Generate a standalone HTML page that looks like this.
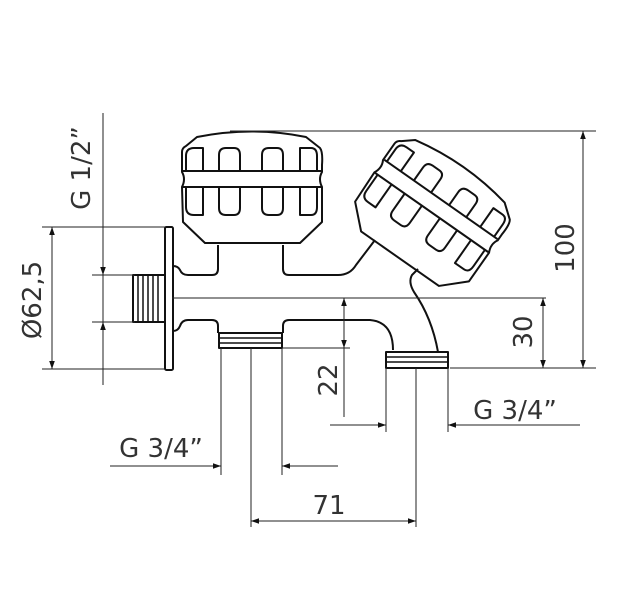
<!DOCTYPE html>
<html><head><meta charset="utf-8"><style>
html,body{margin:0;padding:0;background:#fff;}
svg{display:block;}
text{font-family:"DejaVu Sans","Liberation Sans",sans-serif;fill:#333;}
</style></head><body>
<svg width="634" height="600" viewBox="0 0 634 600" xmlns="http://www.w3.org/2000/svg">
<defs>
<marker id="a" viewBox="0 0 10 10" refX="10" refY="5" markerWidth="10" markerHeight="8" orient="auto-start-reverse" markerUnits="userSpaceOnUse"><path d="M0,1.5 L10,5 L0,8.5 z" fill="#111"/></marker>
<g id="knob" fill="none" stroke="#111" stroke-width="2" stroke-linejoin="round">
<path d="M197,137 Q252,126 306,137 L320,148 Q323,152 322,165 L322,172 Q318,179 322,187 L322,222 L300,243 L205,243 L183,222 L182,187 Q186,179 182,172 L182,152 Q182,148 186,146 Z"/>
<path d="M183,171 L321,171 M183,187 L321,187"/>
<path d="M186,171 L186,156 Q186,148 194,148 L203,148 L203,171"/>
<path d="M219,171 L219,155 Q219,148 226,148 L234,148 Q240,148 240,155 L240,171"/>
<path d="M262,171 L262,155 Q262,148 269,148 L277,148 Q283,148 283,155 L283,171"/>
<path d="M300,171 L300,148 L311,148 Q317,148 317,156 L317,171"/>
<path d="M186,187 L186,207 Q186,215 194,215 L203,215 L203,187"/>
<path d="M219,187 L219,208 Q219,215 226,215 L234,215 Q240,215 240,208 L240,187"/>
<path d="M262,187 L262,208 Q262,215 269,215 L277,215 Q283,215 283,208 L283,187"/>
<path d="M300,187 L300,215 L311,215 Q317,215 317,207 L317,187"/>
</g>
</defs>

<use href="#knob"/>
<g transform="translate(430,215) rotate(35) translate(-252,-190)"><use href="#knob"/></g>

<g fill="none" stroke="#111" stroke-width="2" stroke-linejoin="round">
<rect x="165" y="227" width="8" height="143" rx="1.5"/>
<rect x="133" y="275" width="32" height="47"/>
<path d="M138,275V322 M143,275V322 M148,275V322 M153,275V322 M158,275V322" stroke-width="1.5"/>
<path d="M173,266 Q178,266 180,270 Q182,275 188,275 L212,275 Q218,275 218,269 L218,245"/>
<path d="M283,245 L283,269 Q283,275 289,275 L338,275 Q350,275 356,265 L375,240"/>
<path d="M173,331 Q178,331 180,326 Q182,320 188,320 L212,320 Q218,320 218,326 L218,333"/>
<path d="M283,333 L283,326 Q283,320 289,320 L370,320 Q393,322 393,350"/>
<path d="M418,269 L412,275 Q408,282 414,292 Q432,318 438,352"/>
<rect x="219" y="333" width="63" height="15"/>
<path d="M219,338H282 M219,343H282" stroke-width="1.5"/>
<rect x="386" y="352" width="62" height="16"/>
<path d="M386,357H448 M386,362H448" stroke-width="1.5"/>
</g>

<g fill="none" stroke="#222" stroke-width="1">
<path d="M230,131H596"/>
<path d="M172,298H546"/>
<path d="M450,368H596"/>
<path d="M103,113V385"/>
<path d="M42,227H165 M42,369H165"/>
<path d="M92,275H135 M92,322H135"/>
<path d="M282,348H350"/>
<path d="M221,348V475 M282,348V475 M251,348V527"/>
<path d="M386,368V432 M448,368V432 M416,368V527"/>
<path d="M330,425H386 M448,425H580"/>
<path d="M110,466H221 M282,466H338"/>
</g>
<g stroke="#222" stroke-width="1" fill="none">
<line x1="103" y1="250" x2="103" y2="275" marker-end="url(#a)"/>
<line x1="103" y1="347" x2="103" y2="322" marker-end="url(#a)"/>
<line x1="52" y1="227" x2="52" y2="369" marker-start="url(#a)" marker-end="url(#a)"/>
<line x1="583" y1="131" x2="583" y2="368" marker-start="url(#a)" marker-end="url(#a)"/>
<line x1="543" y1="298" x2="543" y2="368" marker-start="url(#a)" marker-end="url(#a)"/>
<line x1="344" y1="298" x2="344" y2="348" marker-start="url(#a)" marker-end="url(#a)"/>
<line x1="344" y1="348" x2="344" y2="417"/>
<line x1="360" y1="425" x2="386" y2="425" marker-end="url(#a)"/>
<line x1="475" y1="425" x2="448" y2="425" marker-end="url(#a)"/>
<line x1="190" y1="466" x2="221" y2="466" marker-end="url(#a)"/>
<line x1="310" y1="466" x2="282" y2="466" marker-end="url(#a)"/>
<line x1="251" y1="521" x2="416" y2="521" marker-start="url(#a)" marker-end="url(#a)"/>
</g>

<g font-size="26">
<text transform="translate(90,168) rotate(-90)" text-anchor="middle">G 1/2”</text>
<text transform="translate(41,300) rotate(-90)" text-anchor="middle">Ø62,5</text>
<text transform="translate(574,248) rotate(-90)" text-anchor="middle">100</text>
<text transform="translate(532,332) rotate(-90)" text-anchor="middle">30</text>
<text transform="translate(337,380) rotate(-90)" text-anchor="middle">22</text>
<text x="515" y="419" text-anchor="middle">G 3/4”</text>
<text x="161" y="457" text-anchor="middle">G 3/4”</text>
<text x="329" y="514" text-anchor="middle">71</text>
</g>
</svg>
</body></html>
